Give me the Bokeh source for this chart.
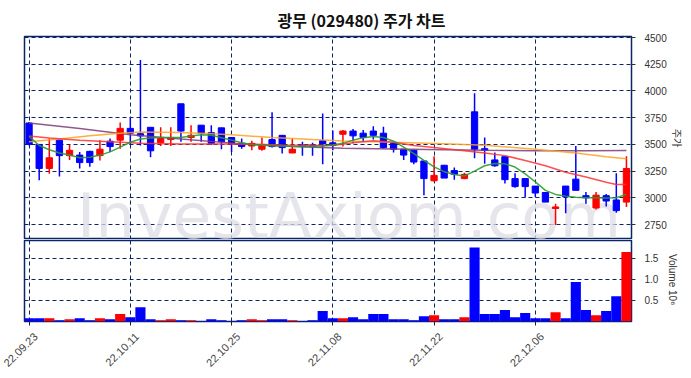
import math
from bokeh.plotting import figure
from bokeh.layouts import column
from bokeh.models import (ColumnDataSource, FixedTicker, Range1d, PrintfTickFormatter,
                          LinearAxis)
from bokeh.embed import file_html
from bokeh.resources import INLINE
from bokeh.core.properties import value

# ---------------- data ----------------
tick_idx = [0, 10, 20, 30, 40, 50]
tick_labels = ["22.09.23", "22.10.11", "22.10.25", "22.11.08", "22.11.22", "22.12.06"]

opens = [3700, 3500, 3275, 3540, 3395, 3400, 3435, 3395, 3530, 3540,
         3650, 3600, 3660, 3515, 3545, 3880, 3565, 3680, 3610, 3655,
         3565, 3510, 3485, 3455, 3545, 3585, 3420, 3495, 3495, 3535,
         3515, 3595, 3625, 3605, 3625, 3605, 3510, 3455, 3445, 3345,
         3160, 3305, 3255, 3180, 3805, 3460, 3355, 3385, 3180, 3180,
         3110, 3050, 2900, 3110, 3175, 3020, 2905, 3020, 2980, 2960]
highs = [3710, 3500, 3555, 3545, 3500, 3430, 3440, 3540, 3555, 3705,
         3750, 4290, 3660, 3660, 3660, 3880, 3680, 3680, 3680, 3655,
         3570, 3555, 3535, 3565, 3800, 3585, 3555, 3525, 3515, 3790,
         3630, 3635, 3645, 3635, 3670, 3665, 3510, 3455, 3445, 3345,
         3390, 3305, 3285, 3235, 3980, 3565, 3425, 3385, 3230, 3180,
         3110, 3050, 2945, 3110, 3485, 3055, 3055, 3035, 3230, 3390]
lows = [3490, 3165, 3225, 3200, 3355, 3275, 3290, 3350, 3430, 3460,
        3495, 3490, 3380, 3485, 3485, 3525, 3525, 3525, 3495, 3455,
        3430, 3460, 3445, 3440, 3470, 3415, 3420, 3395, 3395, 3315,
        3445, 3480, 3510, 3525, 3545, 3460, 3425, 3355, 3315, 3025,
        3150, 3185, 3170, 3175, 3370, 3320, 3290, 3135, 3095, 3005,
        3010, 2960, 2745, 2855, 3070, 2945, 2890, 2920, 2860, 2915]
closes = [3500, 3275, 3375, 3395, 3445, 3330, 3330, 3455, 3480, 3650,
          3605, 3580, 3440, 3555, 3565, 3625, 3585, 3605, 3510, 3525,
          3505, 3480, 3510, 3500, 3480, 3470, 3455, 3480, 3480, 3505,
          3490, 3625, 3580, 3565, 3585, 3470, 3455, 3400, 3335, 3180,
          3210, 3185, 3220, 3220, 3455, 3445, 3300, 3170, 3105, 3105,
          3045, 2960, 2915, 3010, 3070, 3000, 3025, 2970, 2880, 3275]
volumes = [79000, 79000, 79000, 32000, 56000, 79000, 32000, 79000, 56000, 180000,
           100000, 340000, 56000, 32000, 56000, 32000, 32000, 10000, 56000, 32000,
           10000, 32000, 56000, 32000, 56000, 56000, 32000, 10000, 32000, 246000,
           79000, 79000, 100000, 56000, 175000, 175000, 56000, 56000, 32000, 127000,
           150000, 56000, 56000, 100000, 1754000, 175000, 175000, 270000, 100000, 200000,
           79000, 79000, 220000, 79000, 937000, 270000, 150000, 246000, 600000, 1650000]

ma_short = [3575, 3490, 3450, 3420, 3400, 3375, 3380, 3400, 3430, 3475,
            3520, 3550, 3560, 3565, 3565, 3565, 3578, 3590, 3585, 3563,
            3540, 3515, 3500, 3492, 3488, 3485, 3482, 3480, 3480, 3485,
            3495, 3510, 3540, 3563, 3575, 3565, 3530, 3475, 3413, 3350,
            3290, 3245, 3218, 3205, 3250, 3300, 3322, 3318, 3288, 3225,
            3150, 3070, 3032, 3016, 3006, 3000, 3000, 2998, 3000, 3032]

ma_red_x = [0, 2, 5, 8, 11, 15, 20, 25, 30, 32, 34, 36, 38, 40, 43, 45, 47, 49, 51, 53, 55, 57, 58, 59]
ma_red_y = [3578, 3560, 3540, 3525, 3510, 3505, 3505, 3495, 3490, 3515, 3535, 3520, 3490, 3470,
            3440, 3420, 3395, 3350, 3300, 3240, 3195, 3145, 3125, 3125]
ma_orange_x = [0, 3, 6, 9, 11, 15, 18, 20, 24, 28, 31, 35, 41, 45, 50, 54, 57, 59]
ma_orange_y = [3525, 3550, 3580, 3605, 3615, 3612, 3600, 3590, 3565, 3545, 3532, 3522, 3506,
               3492, 3455, 3420, 3385, 3366]
ma_purple_x = [0, 5, 10, 15, 21, 26, 31, 36, 41, 45, 50, 55, 59]
ma_purple_y = [3700, 3650, 3590, 3550, 3505, 3480, 3465, 3458, 3450, 3445, 3440, 3440, 3442]

price_ticks = [2750, 3000, 3250, 3500, 3750, 4000, 4250, 4500]
vol_ticks = [0.5, 1.0, 1.5]

# ---------------- derived ----------------
n = len(opens)
idx = list(range(n))
cols = ["#ff0000" if c > o else "#0000ff" for o, c in zip(opens, closes)]
src = ColumnDataSource(dict(
    x=idx, o=opens, h=highs, l=lows, c=closes,
    top=[max(o, c) for o, c in zip(opens, closes)],
    bot=[min(o, c) for o, c in zip(opens, closes)],
    vol=[v / 1e6 for v in volumes], color=cols))

NAVY = "#0b2466"
GRIDC = "#0b2466"
TXT = "#333333"
FONT = "Liberation Sans"

x_range = Range1d(-0.45, 59.5)


def style_right_axis(ax, label, label_font, standoff):
    ax.axis_line_color = None
    ax.major_tick_line_color = TXT
    ax.major_tick_out = 4
    ax.major_tick_in = 0
    ax.minor_tick_line_color = None
    ax.major_label_text_font = FONT
    ax.major_label_text_font_size = "10px"
    ax.major_label_text_color = TXT
    ax.major_label_standoff = 9
    ax.axis_label = label
    ax.axis_label_text_font = label_font
    ax.axis_label_text_font_size = "10px"
    ax.axis_label_text_font_style = "normal"
    ax.axis_label_text_color = TXT
    ax.axis_label_standoff = standoff
    if "axis_label_orientation" in ax.properties():
        ax.axis_label_orientation = "vertical"


p = figure(x_range=x_range, y_range=Range1d(2610, 4510),
           frame_width=607, frame_height=203,
           output_backend="svg", toolbar_location=None,
           y_axis_location="right",
           min_border_left=24, min_border_right=3, min_border_top=8, min_border_bottom=0)
p.title.text = "광무 (029480) 주가 차트"
p.title.align = "left"
p.title.offset = 253
p.title.text_font = "Noto Sans CJK KR"
p.title.text_font_size = "16px"
p.title.text_font_style = "bold"
p.title.text_color = "#111111"
p.xaxis.visible = False
p.xgrid.ticker = FixedTicker(ticks=tick_idx)
p.yaxis.ticker = FixedTicker(ticks=price_ticks)
for g in (p.xgrid, p.ygrid):
    g.grid_line_color = GRIDC
    g.grid_line_dash = "4 3"
    g.grid_line_width = 1
p.outline_line_color = NAVY
p.outline_line_width = 1.5
style_right_axis(p.yaxis[0], "주가", "Noto Sans CJK KR", 0)

# watermark
p.text(x=[31.6], y=[2826], text=["InvestAxiom.com"], text_font=value("DejaVu Sans"),
       text_font_size="63px", text_color="#dcdce4", text_alpha=0.75,
       text_align="center", text_baseline="alphabetic")

p.segment(x0="x", y0="l", x1="x", y1="h", color="color", line_width=1.5, source=src)
p.vbar(x="x", width=0.62, top="top", bottom="bot", fill_color="color",
       line_color="color", line_width=1, source=src)

p.line(ma_purple_x, ma_purple_y, color="#7a3d78", line_width=1.5, line_alpha=0.85)
p.line(ma_orange_x, ma_orange_y, color="#ffa020", line_width=1.5, line_alpha=0.85)
p.line(ma_red_x, ma_red_y, color="#ff3030", line_width=1.5, line_alpha=0.85)
p.line(idx, ma_short, color="#2e9a2e", line_width=1.5, line_alpha=0.9)

# ---------------- volume ----------------
v = figure(x_range=x_range, y_range=Range1d(0, 1.92),
           frame_width=607, frame_height=81,
           output_backend="svg", toolbar_location=None,
           y_axis_location="right",
           min_border_left=24, min_border_right=3, min_border_top=1, min_border_bottom=2)
v.vbar(x="x", width=1.0, top="vol", bottom=0, fill_color="color", line_color=None, source=src)

# tick marks only
v.xaxis.ticker = FixedTicker(ticks=tick_idx)
v.xaxis.major_label_overrides = {t: "" for t in tick_idx}
v.xaxis.major_label_text_font_size = "0px"
v.xaxis.major_label_standoff = 0
v.xaxis.axis_line_color = None
v.xaxis.major_tick_line_color = "#222222"
v.xaxis.major_tick_out = 4
v.xaxis.major_tick_in = 0
v.xaxis.minor_tick_line_color = None

# rotated date labels (slightly right of the tick so the text is centred on it)
label_pos = [t + 0.65 for t in tick_idx]
lab_ax = LinearAxis(ticker=FixedTicker(ticks=label_pos))
lab_ax.major_label_overrides = {t: s for t, s in zip(label_pos, tick_labels)}
lab_ax.major_label_orientation = math.pi / 4
lab_ax.major_label_text_font = FONT
lab_ax.major_label_text_font_size = "11px"
lab_ax.major_label_text_color = "#444444"
lab_ax.major_label_standoff = 3
lab_ax.axis_line_color = None
lab_ax.major_tick_line_color = None
lab_ax.minor_tick_line_color = None
v.add_layout(lab_ax, "below")

v.yaxis.ticker = FixedTicker(ticks=vol_ticks)
v.yaxis.formatter = PrintfTickFormatter(format="%.1f")
style_right_axis(v.yaxis[0], "Volume  10⁶", FONT, 6)
for g in (v.xgrid, v.ygrid):
    g.grid_line_color = GRIDC
    g.grid_line_dash = "4 3"
    g.grid_line_width = 1
v.outline_line_color = NAVY
v.outline_line_width = 1.5

layout = column(p, v, spacing=0)
open("out.html", "w").write(file_html(layout, INLINE))
